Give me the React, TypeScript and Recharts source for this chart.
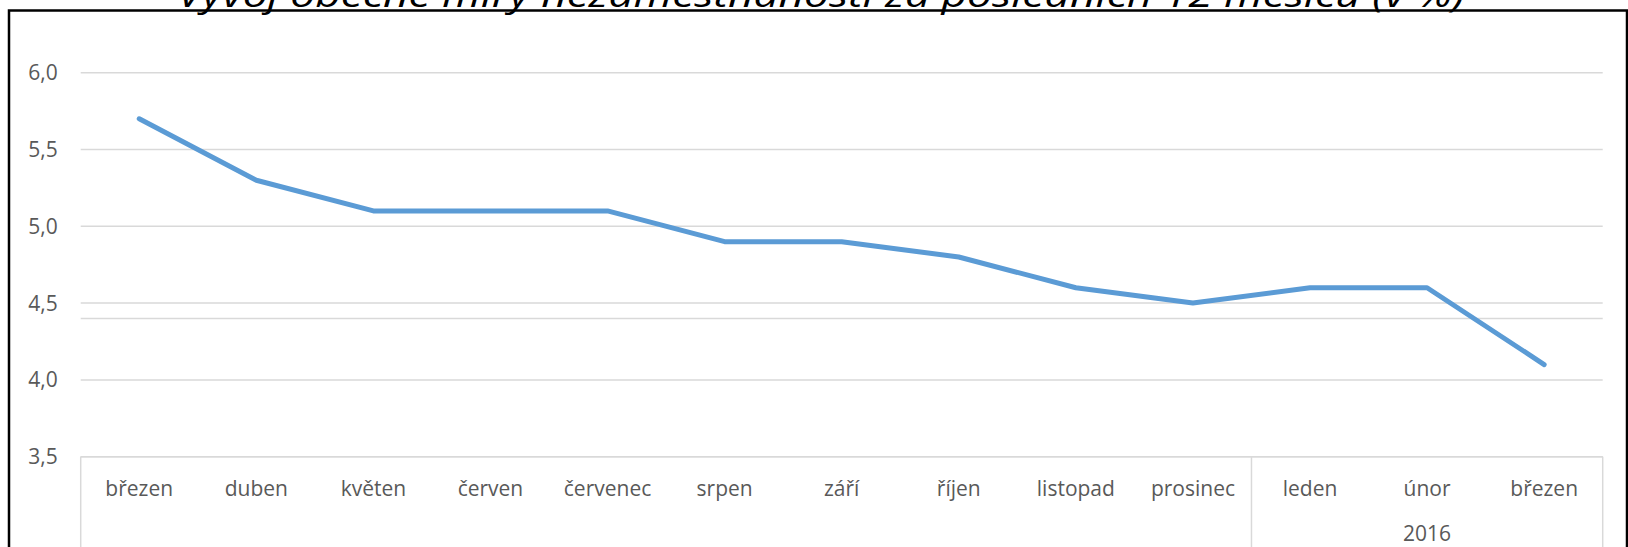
import { LineChart, Line, XAxis, YAxis, CartesianGrid, ReferenceLine } from 'recharts';

// values
const months = [
  'březen', 'duben', 'květen', 'červen', 'červenec', 'srpen', 'září',
  'říjen', 'listopad', 'prosinec', 'leden', 'únor', 'březen',
];
const rates = [5.7, 5.3, 5.1, 5.1, 5.1, 4.9, 4.9, 4.8, 4.6, 4.5, 4.6, 4.6, 4.1];
const yTicks = [3.5, 4.0, 4.5, 5.0, 5.5, 6.0];
const yearLabel = '2016';
const yearStart = 10; // first month of 2016
const extraLine = 4.4;
const title = 'Vývoj obecné míry nezaměstnanosti za posledních 12 měsíců (v %)';

const data = months.map((month, i) => ({ month, rate: rates[i] }));

const W = 1628;
const H = 547;
const margin = { top: 72.7, right: 25.3, bottom: 0, left: 0 };
const Y_AXIS_W = 80.7;
const X_AXIS_H = 90.3;
const AXIS_Y = H - X_AXIS_H;
const PLOT_W = W - margin.right - Y_AXIS_W;
const STEP = PLOT_W / months.length;

const GRID = '#d9d9d9';
const TEXT = '#595959';
const FONT = '"Open Sans", sans-serif';

function MonthTick(props: any) {
  const { x, index, payload } = props;
  const half = STEP / 2;
  const edges: number[] = [];
  if (index === 0) edges.push(x - half);
  if (index === yearStart - 1 || index === months.length - 1) edges.push(x + half);
  const yearMid = Math.round((yearStart + months.length - 1) / 2);
  return (
    <g>
      {edges.map((ex) => (
        <line key={ex} x1={ex} x2={ex} y1={AXIS_Y} y2={H} stroke={GRID} strokeWidth={1.5} />
      ))}
      <text x={x} y={AXIS_Y + 39.3} textAnchor="middle" fill={TEXT} fontSize={21} fontFamily={FONT}>
        {payload.value}
      </text>
      {index === yearMid && (
        <text x={x} y={AXIS_Y + 84} textAnchor="middle" fill={TEXT} fontSize={21} fontFamily={FONT}>
          {yearLabel}
        </text>
      )}
    </g>
  );
}

export default function App() {
  return (
    <div style={{ position: 'fixed', left: 0, top: 0, width: W, height: H, overflow: 'hidden', background: '#fff' }}>
      <LineChart width={W} height={H} data={data} margin={margin}>
        <CartesianGrid vertical={false} stroke={GRID} strokeWidth={1.5} />
        <ReferenceLine y={extraLine} stroke={GRID} strokeWidth={1.5} />
        <XAxis
          dataKey="month"
          height={X_AXIS_H}
          interval={0}
          padding={{ left: STEP / 2, right: STEP / 2 }}
          axisLine={{ stroke: GRID, strokeWidth: 1.5 }}
          tickLine={false}
          tick={<MonthTick />}
        />
        <YAxis
          width={Y_AXIS_W}
          domain={[3.5, 6]}
          ticks={yTicks}
          axisLine={false}
          tickLine={false}
          tickSize={0}
          tickMargin={23}
          tick={{ fill: TEXT, fontSize: 21, fontFamily: FONT }}
          tickFormatter={(v: number) => v.toFixed(1).replace('.', ',')}
        />
        <Line
          type="linear"
          dataKey="rate"
          stroke="#5b9bd5"
          strokeWidth={5}
          strokeLinejoin="round"
          strokeLinecap="round"
          dot={false}
          activeDot={false}
          isAnimationActive={false}
        />
      </LineChart>
      <svg width={W} height={H} style={{ position: 'absolute', left: 0, top: 0, pointerEvents: 'none' }}>
        <path d={`M9,${H} V10.5 H1627 V${H}`} fill="none" stroke="#000" strokeWidth={2.5} />
        <text
          x={821}
          y={6.5}
          textAnchor="middle"
          fontSize={34}
          fontStyle="italic"
          fontFamily="'Open Sans', sans-serif"
          fill="#000"
          textLength={1287}
          lengthAdjust="spacingAndGlyphs"
        >
          {title}
        </text>
      </svg>
    </div>
  );
}
